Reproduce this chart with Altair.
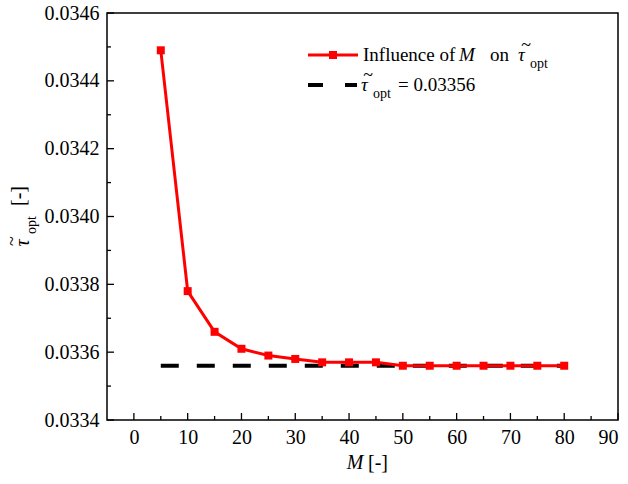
import altair as alt
import pandas as pd

# ---- data ----
M_values = [5, 10, 15, 20, 25, 30, 35, 40, 45, 50, 55, 60, 65, 70, 75, 80]
tau_values = [0.03449, 0.03378, 0.03366, 0.03361, 0.03359, 0.03358, 0.03357, 0.03357,
              0.03357, 0.03356, 0.03356, 0.03356, 0.03356, 0.03356, 0.03356, 0.03356]
ref_M = [5, 80]
ref_tau = 0.03356

x_major = [0, 10, 20, 30, 40, 50, 60, 70, 80, 90]
x_minor = [5, 15, 25, 35, 45, 55, 65, 75, 85]
y_major = [0.0334, 0.0336, 0.0338, 0.0340, 0.0342, 0.0344, 0.0346]
y_minor = [0.0335, 0.0337, 0.0339, 0.0341, 0.0343, 0.0345]

FONT = "Liberation Serif"
W, H = 511, 407

xs = alt.Scale(domain=[-5, 90], nice=False, zero=False)
ys = alt.Scale(domain=[0.0334, 0.0346], nice=False, zero=False)

df = pd.DataFrame({"M": M_values, "tau": tau_values})
ref_df = pd.DataFrame({"M": ref_M, "tau": [ref_tau] * len(ref_M)})
dummy = pd.DataFrame({"a": [0]})

x_axis = alt.Axis(values=x_major, ticks=False, domain=False, grid=False,
                  labelFont=FONT, labelFontSize=20, labelColor="black",
                  labelPadding=7, title=None)
y_axis = alt.Axis(values=y_major, format=".4f", ticks=False, domain=False, grid=False,
                  labelFont=FONT, labelFontSize=20, labelColor="black",
                  labelPadding=8, title=None)

dashed = alt.Chart(ref_df).mark_line(color="black", strokeWidth=4, strokeDash=[18, 18]).encode(
    x=alt.X("M:Q", scale=xs, axis=x_axis),
    y=alt.Y("tau:Q", scale=ys, axis=y_axis),
)
line = alt.Chart(df).mark_line(color="#ff0000", strokeWidth=3).encode(
    x=alt.X("M:Q", scale=xs, axis=x_axis), y=alt.Y("tau:Q", scale=ys, axis=y_axis))
pts = alt.Chart(df).mark_point(shape="square", filled=True, color="#ff0000", size=64, opacity=1).encode(
    x=alt.X("M:Q", scale=xs, axis=x_axis), y=alt.Y("tau:Q", scale=ys, axis=y_axis))


def xticks(vals, length):
    return alt.Chart(pd.DataFrame({"M": vals})).mark_rule(color="black", strokeWidth=1.3).encode(
        x=alt.X("M:Q", scale=xs, axis=x_axis), y=alt.value(H), y2=alt.value(H - length))


def yticks(vals, length):
    return alt.Chart(pd.DataFrame({"tau": vals})).mark_rule(color="black", strokeWidth=1.3).encode(
        y=alt.Y("tau:Q", scale=ys, axis=y_axis), x=alt.value(0), x2=alt.value(length))


def txt(s, x, y, size=19, italic=False, angle=0, align="left"):
    kw = dict(text=s, font=FONT, fontSize=size, align=align, baseline="middle", color="black")
    if italic:
        kw["fontStyle"] = "italic"
    if angle:
        kw["angle"] = angle
    return alt.Chart(dummy).mark_text(**kw).encode(x=alt.value(x), y=alt.value(y))


frame = alt.Chart(dummy).mark_rect(fill=None, stroke="black", strokeWidth=1.5).encode(
    x=alt.value(0), x2=alt.value(W), y=alt.value(0), y2=alt.value(H))

# legend
leg_red = alt.Chart(dummy).mark_rule(color="#ff0000", strokeWidth=3).encode(
    x=alt.value(201), x2=alt.value(251), y=alt.value(42))
leg_sq = alt.Chart(dummy).mark_point(shape="square", filled=True, color="#ff0000", size=64, opacity=1).encode(
    x=alt.value(226), y=alt.value(42))
leg_black = alt.Chart(dummy).mark_rule(color="black", strokeWidth=4, strokeDash=[15, 22]).encode(
    x=alt.value(201), x2=alt.value(250), y=alt.value(72))

texts = [
    txt("Influence of", 256, 42),
    txt("M", 352, 42, italic=True),
    txt("on", 383, 42),
    txt("\u03c4", 411, 42, italic=True),
    txt("~", 419, 33, size=18, align="center"),
    txt("opt", 423, 51, size=14),
    txt("\u03c4", 254, 72, italic=True),
    txt("~", 261, 63, size=18, align="center"),
    txt("opt", 266, 81, size=14),
    txt("= 0.03356", 291, 72),
    # x title
    txt("M", 248, 450, size=20, italic=True, align="center"),
    txt("[-]", 271, 450, size=20, align="center"),
    # y title (rotated)
    txt("\u03c4", -84, 230, size=20, italic=True, angle=270, align="center"),
    txt("~", -94, 228, size=18, angle=270, align="center"),
    txt("opt", -75, 212, size=14, angle=270, align="center"),
    txt("[-]", -88, 183, size=20, angle=270, align="center"),
]

chart = alt.layer(
    dashed, line, pts,
    xticks(x_major, 7), xticks(x_minor, 4), yticks(y_major, 7), yticks(y_minor, 4),
    frame, leg_red, leg_sq, leg_black, *texts,
).properties(
    width=W, height=H,
    autosize=alt.AutoSizeParams(type="none"),
    padding={"left": 107, "top": 13, "right": 10, "bottom": 64},
).configure_view(stroke=None)

chart.save("out.html", embed_options={"renderer": "svg", "actions": False})
